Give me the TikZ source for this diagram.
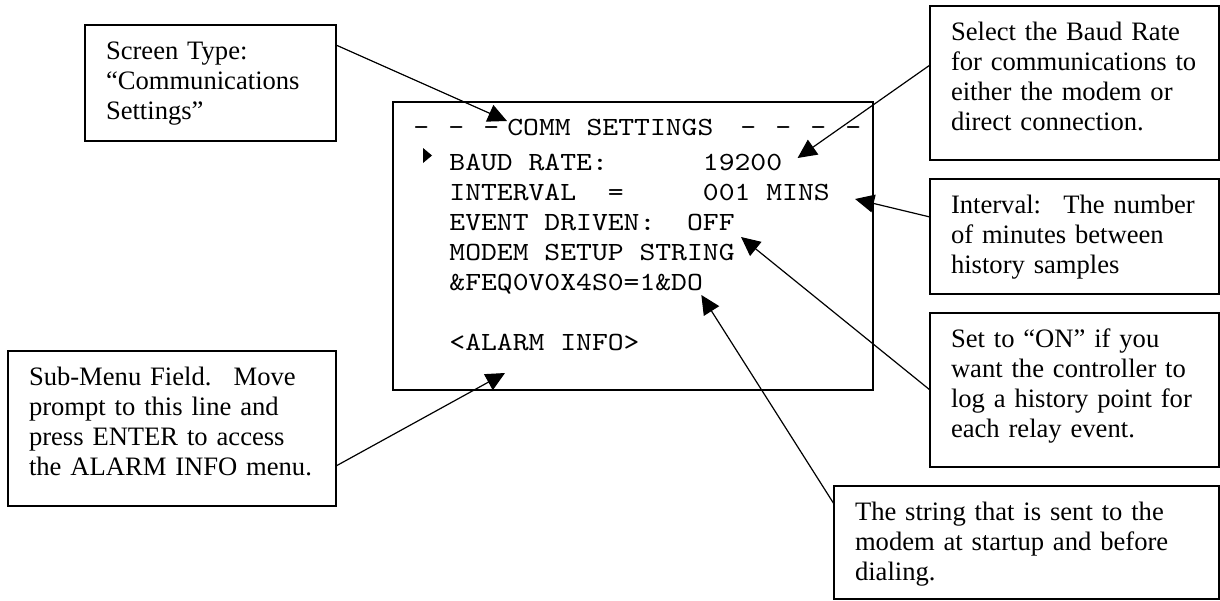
\documentclass[tikz,border=0pt]{standalone}
\usepackage{fontspec}
\setmainfont{Liberation Serif}
\setmonofont{lmmono10-regular.otf}[FakeStretch=1.152]
\usetikzlibrary{positioning,calc,arrows.meta}

\tikzset{
  note/.style 2 args={draw, line width=0.8pt, rectangle, anchor=north west, align=left,
    inner xsep=10.5pt, inner ysep=0pt, outer sep=0pt, text width=#1, text height=17pt,
    text depth=#2, font=\fontsize{13.3}{15}\selectfont},
  scr/.style={inner sep=0pt, anchor=base west, font=\ttfamily\fontsize{13.1}{15}\selectfont},
  arr/.style={-{Triangle[length=9.5pt,width=9pt]}, line width=0.6pt},
}
\newcommand{\dgap}{\hspace{9.58pt}}

\begin{document}
\begin{tikzpicture}[x=0.5pt, y=-0.5pt]
    \useasboundingbox (0,0) rectangle (1220,600);

    % callout boxes
    \node (typebox) [note={104.5pt}{41pt}] at (85,25) {Screen Type:\\“Communications\\Settings”};
    \node (baudbox) [note={123.5pt}{60pt}] at (930,6) {Select the Baud Rate\\for communications to\\either the modem or\\direct connection.};
    \node (intbox) [note={123.5pt}{40.5pt}, below=9.5pt of baudbox] {Interval:~ The number\\of minutes between\\history samples};
    \node (eventbox) [note={123.5pt}{60pt}, below=9.5pt of intbox] {Set to “ON” if you\\want the controller to\\log a history point for\\each relay event.};
    \node (stringbox) [note={171.5pt}{39.5pt}] at (834,486) {The string that is sent to the\\modem at startup and before\\dialing.};
    \node (subbox) [note={143pt}{60.5pt}] at (8,351) {Sub-Menu Field.~ Move\\prompt to this line and\\press ENTER to access\\the ALARM INFO menu.};

    % screen
    \node (screen) [draw, line width=0.8pt, anchor=north west, inner sep=0pt, outer sep=0pt,
        minimum width=240pt, minimum height=144pt] at (393,102) {};
    \node (title) [scr] at (413,135) {–\dgap–\dgap–\hspace{4.08pt}COMM SETTINGS\hspace{13.5pt}–\dgap–\dgap–\dgap–};
    \node (baud) [scr] at (449,170) {BAUD RATE:\ \ \ \ \ \ 19200};
    \node (interval) [scr] at (449,200) {INTERVAL\ \ =\ \ \ \ \ 001 MINS};
    \node (event) [scr] at (449,230) {EVENT DRIVEN:\ \ OFF};
    \node (modem) [scr] at (449,260) {MODEM SETUP STRING};
    \node (setup) [scr] at (449,290) {\&FEQ0V0X4S0=1\&DO};
    \node (alarm) [scr] at (449,350) {<ALARM INFO>};
    \fill ($(baud.base west)+(-26,-22)$) -- ++(9,7.5) -- ++(-9,7.5) -- cycle;

    % pointers
    \draw[arr] ($(typebox.north east)+(0,20)$) -- ($(title.base west)+(94,-14)$);
    \draw[arr] ($(baudbox.north west)+(0,59)$) -- ($(baud.base east)+(15,-12)$);
    \draw[arr] ($(intbox.north west)+(0,38)$) -- ($(interval.base east)+(25,-1)$);
    \draw[arr] (eventbox.west) -- ($(event.base east)+(6,7)$);
    \draw[arr] ($(stringbox.north west)+(0,18)$) -- ($(setup.base east)+(-2,5)$);
    \draw[arr] ($(subbox.north east)+(0,115)$) -- ($(alarm.base west)+(56,23)$);
\end{tikzpicture}
\end{document}
